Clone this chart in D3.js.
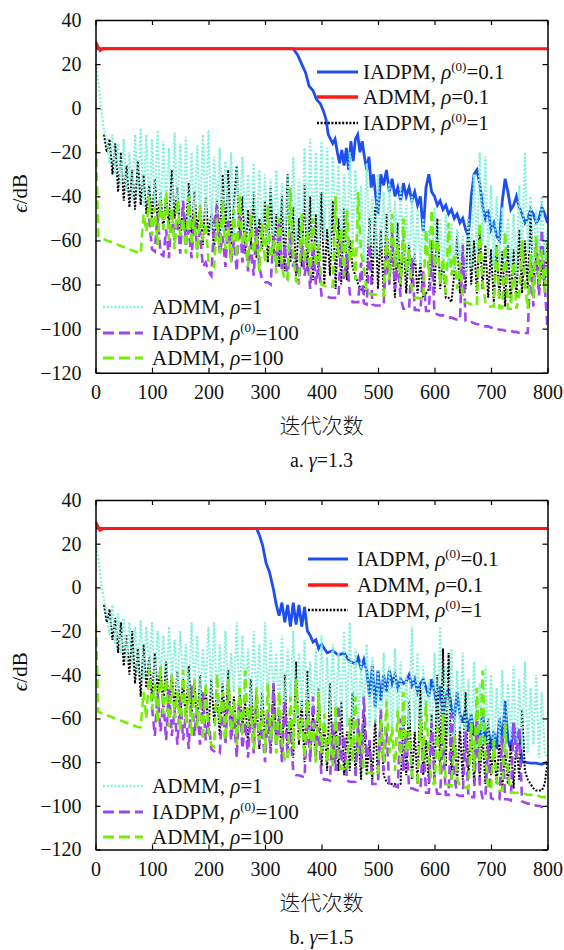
<!DOCTYPE html>
<html><head><meta charset="utf-8">
<script src="https://cdn.jsdelivr.net/npm/d3@7"></script>
<style>
body{margin:0;background:#fff}
svg{display:block}
text{font-family:"Liberation Serif","DejaVu Serif","Times New Roman",serif;fill:#111}
text.cjk{font-family:"Noto Sans CJK SC","Noto Sans CJK JP",sans-serif}
</style>
</head><body>
<svg id="chart" width="564" height="950"></svg>
<script>
// ---------- axis ticks ----------
const xTickVals = [0,100,200,300,400,500,600,700,800];
const yTickVals = [-120,-100,-80,-60,-40,-20,0,20,40];
const grid = d3.range(0, 801, 5); // iteration index of the 5-step series

// ---------- legend labels ----------
const legendTop = [
  {key:"blue",  pre:"IADPM, ", sup:"(0)", post:"=0.1"},
  {key:"red",   pre:"ADMM, ",  sup:null,  post:"=0.1"},
  {key:"black", pre:"IADPM, ", sup:"(0)", post:"=1"}
];
const legendBottom = [
  {key:"cyan",   pre:"ADMM, ",  sup:null,  post:"=1"},
  {key:"purple", pre:"IADPM, ", sup:"(0)", post:"=100"},
  {key:"green",  pre:"ADMM, ",  sup:null,  post:"=100"}
];

// ---------- ADMM rho=0.1 (red), both panels ----------
const redIter = [0, 8, 14, 800];
const redVal  = [30, 26.2, 27, 27];

// ---------- panel a (gamma = 1.3) ----------
const blueIterA = [0,350,358,365,372,378,385,391,398,403,408,412,416,420,424,428,432,436,440,444,448,452,456,460,464,468,472,476,480,484,488,492,496,500].concat(d3.range(505, 801, 5));
const blueA = [27,27,24,20,16,10,8,4,2,-1,-5,-12,-14,-16,-14,-20,-25,-19,-26,-18,-28,-15,-24,-14,-12,-20,-15,-22,-28,-22,-36,-30,-40,-48,
  -30,-35,-28,-38,-32,-40,-36,-42,-34,-40,
  -36,-42,-38,-44,-40,-56,-36,-30,-38,-40,
  -44,-42,-46,-44,-48,-46,-50,-48,-52,-50,
  -55,-58,-40,-30,-28,-34,-44,-50,-46,-55,
  -52,-58,-60,-42,-32,-38,-46,-44,-40,-45,
  -48,-52,-50,-46,-48,-52,-50,-45,-48,-52];

const blackA = [
  null,null,null,-12,-20,-14,-30,-16,-38,-20,-42,-26,-45,-28,-46,-24,-44,-30,-48,-35,
  -50,-32,-52,-38,-55,-40,-54,-28,-50,-36,-58,-44,-56,-34,-60,-38,-55,-46,-62,-40,
  -58,-48,-64,-42,-60,-30,-56,-28,-62,-44,-26,-58,-40,-66,-46,-62,-38,-68,-50,-64,
  -42,-70,-36,-66,-48,-72,-40,-74,-30,-70,-45,-76,-50,-72,-35,-74,-40,-78,-48,-76,
  -38,-80,-55,-76,-42,-82,-50,-80,-45,-78,-60,-72,-76,-80,-82,-84,-78,-50,-80,-45,
  -82,-55,-84,-48,-80,-60,-86,-52,-82,-58,-84,-62,-80,-66,-84,-70,-86,-84,-82,-60,
  -84,-50,-82,-70,-86,-86,-88,-75,-58,-84,-65,-82,-50,-80,-60,-84,-55,-82,-62,-86,
  -64,-88,-62,-86,-65,-90,-62,-88,-64,-86,-55,-84,-60,-82,-48,-80,-66,-84,-70,-82,
  -60];

const cyanA = [
  22,12,0,-10,-14,-25,-12,-30,-16,-35,-14,-38,-20,-42,-12,-40,-9,-45,-12,-48,
  -14,-44,-10,-50,-15,-46,-18,-52,-11,-48,-16,-50,-13,-54,-20,-48,-17,-52,-12,-50,
  -10,-55,-22,-50,-18,-56,-24,-52,-20,-58,-26,-54,-22,-56,-30,-55,-25,-60,-28,-58,
  -30,-62,-32,-58,-28,-64,-34,-60,-30,-65,-22,-60,-32,-66,-18,-62,-14,-58,-20,-64,
  -15,-60,-18,-66,-22,-55,-26,-62,-30,-68,-20,-60,-28,-64,-35,-70,-25,-62,-40,-68,
  -30,-64,-38,-70,-34,-66,-42,-72,-36,-68,-44,-74,-40,-70,-46,-72,-50,-68,-55,-74,
  -45,-70,-50,-76,-48,-72,-52,-74,-55,-70,-58,-76,-50,-72,-30,-66,-20,-62,-22,-68,
  -35,-72,-40,-70,-45,-74,-50,-72,-48,-76,-35,-70,-20,-66,-40,-72,-46,-70,-40,-68,
  -55];

const purpleA = [
  null,null,null,null,null,null,null,null,null,null,null,null,null,null,null,null,null,null,null,-50,
  -64,-65,-48,-66,-67,-55,-68,-45,-60,-50,-66,-42,-62,-55,-68,-48,-64,-56,-72,-70,
  -74,-76,-52,-44,-66,-58,-72,-50,-70,-60,-74,-48,-70,-56,-74,-62,-76,-54,-72,-78,
  -79,-79,-80,-58,-72,-52,-74,-62,-78,-56,-72,-66,-80,-60,-76,-68,-82,-62,-80,-70,
  -85,-85,-85.5,-86,-86,-86,-86,-60,-78,-66,-84,-88,-88,-88,-70,-88.5,-89,-62,-89,-89.5,
  -89.5,-89.5,-89.5,-64,-80,-56,-82,-70,-86,-91,-91,-91,-68,-91.5,-91.5,-92,-74,-92,-92,-66,
  -93,-93.5,-94,-94,-94.5,-95,-95,-95.5,-96,-96,-62,-96.5,-97,-97,-97.5,-98,-98,-98.5,-99,-99,
  -99.5,-100,-100,-100.5,-100.5,-101,-101,-101,-101.5,-101.5,-102,-102,-102,-102,-70,-90,-60,-85,-55,-80,
  -100];

const greenA = [
  -10,-58,-59,-59.5,-60,-60.5,-61,-61.5,-62,-62.5,-63,-63.5,-64,-64.5,-65,-65.5,-66,-48,-56,-40,
  -58,-45,-62,-42,-55,-38,-60,-46,-64,-42,-58,-50,-66,-40,-62,-48,-68,-44,-60,-52,
  -70,-71,-72,-50,-66,-42,-64,-54,-70,-46,-68,-40,-62,-56,-72,-48,-66,-58,-74,-52,
  -70,-44,-68,-60,-75,-50,-72,-78,-78,-36,-66,-78.5,-79,-48,-70,-56,-76,-50,-72,-62,
  -80,-80.5,-81,-81,-81,-40,-68,-55,-76,-46,-70,-60,-78,-38,-66,-72,-84,-84,-84.5,-84.5,
  -85,-85,-85,-58,-78,-48,-72,-62,-80,-50,-74,-64,-82,-86,-86,-86.5,-87,-55,-76,-46,
  -72,-60,-80,-68,-84,-52,-76,-66,-82,-70,-86,-88,-88.5,-89,-89,-89.5,-52,-78,-88,-90,
  -90,-90,-62,-90.5,-90.5,-56,-91,-91,-70,-91,-84,-60,-80,-91,-66,-86,-58,-80,-64,-84,
  -62];

// ---------- panel b (gamma = 1.5) ----------
const blueIterB = [0,285,290,296,302,308,315,320,325,330,335,340,345,350,355,360,365,370,375,380,385,390,395,400,410,420,430,440,450].concat(d3.range(460, 761, 5), [770,780,790,800]);
const blueB = [27,27,24,19,11,7,-1,
  -8,-13,-7,-16,-8,-18,-7,-17,-8,-18,-9,-20,-22,-25,-24,-28,-26,
  -30,-29,-31,-30,-34,
  -35,-32,-37,-33,-38,-50,-36,-55,-38,-52,-40,-48,-38,-44,-40,-46,-42,-44,-43,-40,
  -45,-42,-48,-44,-42,-46,-50,-42,-48,-55,-45,-58,-50,-46,-55,-60,-48,-58,-62,-55,
  -66,-58,-68,-62,-72,-56,-70,-64,-74,-66,-74,-60,-72,-52,-70,-74,-62,-70,-66,-80,-80,
  -80.5,-80.5,-81,-80];

const blackB = [
  null,null,null,-8,-16,-10,-24,-14,-30,-16,-36,-22,-40,-20,-44,-28,-50,-26,-46,-32,
  -52,-30,-48,-36,-55,-34,-58,-40,-56,-38,-60,-42,-62,-36,-58,-44,-64,-40,-60,-46,
  -66,-42,-62,-48,-68,-44,-64,-38,-66,-50,-70,-46,-64,-52,-72,-42,-68,-54,-74,-48,
  -70,-56,-76,-44,-72,-58,-78,-40,-74,-60,-78,-34,-72,-52,-80,-38,-76,-58,-80,-46,
  -82,-62,-84,-44,-80,-60,-84,-52,-86,-66,-84,-48,-86,-64,-88,-56,-86,-70,-88,-60,
  -88,-58,-86,-89,-90,-90,-90,-91,-90,-60,-86,-52,-88,-66,-90,-46,-86,-70,-90,-58,
  -88,-40,-84,-28,-82,-30,-88,-60,-90,-64,-88,-48,-86,-62,-90,-56,-88,-66,-90,-60,
  -86,-72,-90,-70,-92,-74,-90,-72,-92,-70,-88,-56,-84,-88,-90,-92,-93,-93,-93,-90,
  -80];

const cyanB = [
  22,13,2,-6,-12,-22,-8,-26,-12,-30,-14,-34,-16,-36,-18,-40,-15,-42,-18,-38,
  -16,-44,-20,-40,-22,-46,-18,-42,-24,-48,-20,-44,-26,-50,-16,-46,-22,-52,-28,-48,
  -18,-50,-16,-54,-26,-50,-20,-52,-30,-48,-16,-54,-22,-50,-28,-56,-20,-52,-26,-58,
  -16,-54,-24,-50,-30,-56,-22,-58,-28,-52,-20,-60,-30,-56,-24,-62,-34,-58,-28,-60,
  -22,-64,-32,-58,-26,-62,-30,-60,-20,-64,-16,-60,-28,-66,-34,-58,-26,-64,-32,-62,
  -38,-66,-30,-60,-36,-68,-28,-62,-34,-70,-40,-64,-18,-66,-30,-70,-36,-64,-42,-72,
  -30,-66,-18,-70,-36,-68,-28,-72,-38,-66,-30,-74,-42,-70,-34,-76,-44,-72,-36,-74,
  -40,-78,-46,-72,-38,-76,-44,-70,-36,-78,-42,-74,-34,-76,-46,-72,-40,-78,-48,-76,
  -78];

const purpleB = [
  null,null,null,null,null,null,null,null,null,null,null,null,null,null,null,null,null,null,null,null,
  -55,-68,-48,-66,-52,-70,-46,-68,-56,-72,-50,-70,-58,-74,-45,-68,-55,-72,-48,-70,
  -60,-74,-75,-76,-76,-52,-72,-46,-70,-58,-78,-50,-74,-62,-78,-54,-76,-48,-72,-64,
  -80,-56,-76,-44,-72,-60,-80,-52,-78,-66,-84,-86,-86,-86.5,-87,-58,-80,-50,-76,-64,
  -87,-88,-88,-88.5,-62,-84,-54,-80,-68,-88.5,-89,-89,-89,-60,-82,-50,-78,-70,-90,-90,
  -90,-56,-84,-64,-91,-91,-91,-91.5,-60,-84,-66,-92,-92,-92.5,-93,-93,-70,-94,-94,-62,
  -88,-94.5,-94.5,-70,-95,-95,-58,-86,-95,-95.5,-95.5,-66,-96,-96,-96,-60,-90,-96.5,-96.5,-72,
  -96.5,-97,-97,-97,-68,-97,-97,-97.5,-62,-78,-64,-98,-98.5,-99,-99,-99.5,-100,-100,-100.5,-101,
  -101];

const greenB = [
  -10,-57,-57.5,-58,-58.5,-59,-59.5,-60,-60.5,-61,-61.5,-62,-62.5,-63,-63.5,-64,-64,-48,-60,-38,
  -56,-44,-62,-36,-58,-42,-64,-40,-60,-48,-66,-38,-62,-46,-68,-42,-64,-50,-70,-44,
  -66,-72,-73,-40,-62,-48,-70,-42,-66,-52,-72,-46,-68,-38,-64,-54,-74,-46,-70,-56,
  -76,-44,-70,-58,-76,-48,-72,-79,-79.5,-50,-74,-42,-70,-60,-78,-52,-74,-62,-80,-48,
  -76,-58,-80,-66,-82,-54,-78,-83,-83,-84,-60,-80,-50,-76,-66,-84,-84.5,-85,-85,-85.5,
  -86,-60,-80,-52,-76,-64,-84,-56,-80,-48,-76,-66,-86,-88.5,-89,-60,-80,-52,-78,-89.5,
  -90,-64,-86,-58,-90,-90.5,-91,-68,-88,-91,-91.5,-91.5,-92,-62,-84,-46,-80,-38,-76,-92,
  -92.5,-70,-88,-93,-93,-62,-86,-93.5,-94,-94,-94,-94.5,-94.5,-95,-95,-95,-95.5,-95.5,-96,-96,
  -96];

// ---------- styles ----------
const styles = {
  blue:   {color:"#1d4ef0", width:2.8, dash:null},
  red:    {color:"#ff1a1a", width:3,   dash:null},
  black:  {color:"#000000", width:2,   dash:"2,1.6"},
  cyan:   {color:"#7ff3da", width:2.2, dash:"2,1.8"},
  purple: {color:"#a046f0", width:2.6, dash:"9,5"},
  green:  {color:"#72ee08", width:2.6, dash:"9,5"}
};

const panels = [
  {id:"a", top:20, bottom:372.7, gamma:"1.3",
   series:{blue:[blueIterA,blueA], red:[redIter,redVal], black:[grid,blackA], cyan:[grid,cyanA], purple:[grid,purpleA], green:[grid,greenA]},
   legTop:{x1:317, x2:358, tx:363, ys:[72,97,123]},
   legBot:{x1:103, x2:143, tx:152, ys:[307,333,358]}},
  {id:"b", top:500, bottom:849.5, gamma:"1.5",
   series:{blue:[blueIterB,blueB], red:[redIter,redVal], black:[grid,blackB], cyan:[grid,cyanB], purple:[grid,purpleB], green:[grid,greenB]},
   legTop:{x1:308, x2:348, tx:357, ys:[559,585,610]},
   legBot:{x1:103, x2:143, tx:152, ys:[786,812,837]}}
];

const left = 95.5, right = 547.5;
const svg = d3.select("#chart");
const order = ["blue","red","black","cyan","purple","green"];

panels.forEach(p => {
  const x = d3.scaleLinear().domain([0,800]).range([left,right]);
  const y = d3.scaleLinear().domain([-120,40]).range([p.bottom,p.top]);
  const g = svg.append("g");

  svg.append("clipPath").attr("id","clip"+p.id)
    .append("rect").attr("x",left).attr("y",p.top).attr("width",right-left).attr("height",p.bottom-p.top);

  const plot = g.append("g").attr("clip-path","url(#clip"+p.id+")");
  order.forEach(k => {
    const [xs, vs] = p.series[k];
    const pts = [];
    for (let i=0;i<Math.min(xs.length,vs.length);i++) pts.push([xs[i], vs[i]]);
    const line = d3.line().defined(d => d[1] !== null).x(d => x(d[0])).y(d => y(d[1]));
    const st = styles[k];
    plot.append("path").datum(pts).attr("d", line)
      .attr("fill","none").attr("stroke",st.color).attr("stroke-width",st.width)
      .attr("stroke-linejoin","miter").attr("stroke-linecap","butt")
      .attr("stroke-dasharray", st.dash);
  });

  // axes with inward ticks
  const ax = (a, tr) => g.append("g").attr("transform",tr).call(a)
    .attr("font-family",null)
    .call(s => s.selectAll("path.domain").attr("stroke","#000").attr("stroke-width",1.5))
    .call(s => s.selectAll(".tick line").attr("stroke","#000").attr("stroke-width",1.2))
    .call(s => s.selectAll("text").attr("font-size",20).attr("fill","#111"));

  ax(d3.axisBottom(x).tickValues(xTickVals).tickSize(-5).tickSizeOuter(0).tickPadding(12.5).tickFormat(d3.format("d")), `translate(0,${p.bottom})`);
  ax(d3.axisTop(x).tickValues(xTickVals).tickSize(-5).tickSizeOuter(0).tickFormat(""), `translate(0,${p.top})`);
  ax(d3.axisLeft(y).tickValues(yTickVals).tickSize(-5).tickSizeOuter(0).tickPadding(14).tickFormat(d3.format("d")), `translate(${left},0)`);
  ax(d3.axisRight(y).tickValues(yTickVals).tickSize(-5).tickSizeOuter(0).tickFormat(""), `translate(${right},0)`);

  // y label
  const cy = (p.top + p.bottom)/2 - 3;
  const yl = g.append("text").attr("transform",`translate(27,${cy}) rotate(-90)`)
    .attr("text-anchor","middle").attr("font-size",21);
  yl.append("tspan").attr("font-style","italic").text("ϵ");
  yl.append("tspan").text("/dB");

  // x label
  g.append("text").attr("class","cjk").attr("x",321.5).attr("y",p.bottom+60)
    .attr("text-anchor","middle").attr("font-size",21).style("font-weight",300)
    .text("迭代次数");

  // caption
  const cap = g.append("text").attr("x",321.5).attr("y",p.bottom+94)
    .attr("text-anchor","middle").attr("font-size",20);
  cap.append("tspan").text(p.id+". ");
  cap.append("tspan").attr("font-style","italic").text("γ");
  cap.append("tspan").text("="+p.gamma);

  // legends
  const drawLegend = (items, L) => {
    items.forEach((it, i) => {
      const st = styles[it.key];
      const yy = L.ys[i];
      g.append("line").attr("x1",L.x1).attr("x2",L.x2).attr("y1",yy).attr("y2",yy)
        .attr("stroke",st.color).attr("stroke-width",st.width+0.4)
        .attr("stroke-dasharray", it.key==="purple"||it.key==="green" ? "11,5" : st.dash);
      const t = g.append("text").attr("x",L.tx).attr("y",yy+7).attr("font-size",21);
      t.append("tspan").text(it.pre);
      t.append("tspan").attr("font-style","italic").text("ρ");
      if (it.sup) {
        t.append("tspan").attr("font-size",13).attr("dy",-8).text(it.sup);
        t.append("tspan").attr("dy",8).text(it.post);
      } else {
        t.append("tspan").text(it.post);
      }
    });
  };
  drawLegend(legendTop, p.legTop);
  drawLegend(legendBottom, p.legBot);
});
</script>
</body></html>
